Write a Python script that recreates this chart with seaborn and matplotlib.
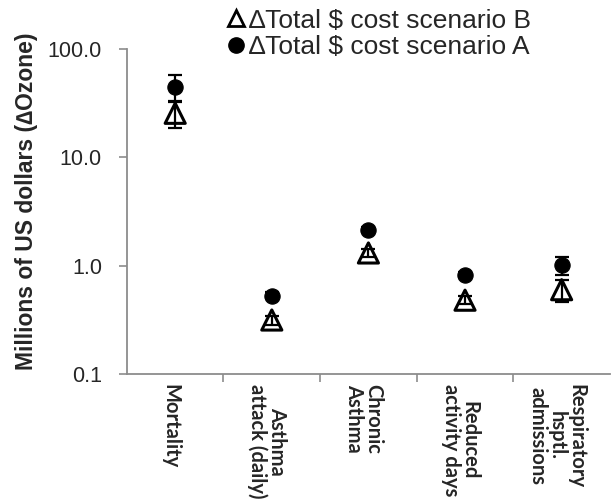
import matplotlib
matplotlib.use("Agg")
import numpy as np
import pandas as pd
import seaborn as sns
import matplotlib.pyplot as plt
from matplotlib.lines import Line2D

# values (millions of US dollars, log scale)
categories = ["Mortality", "Asthma\nattack (daily)", "Chronic\nAsthma",
              "Reduced\nactivity days", "Respiratory\nhsptl.\nadmissions"]
scenario_a = [45.0, 0.53, 2.15, 0.82, 1.01]
scenario_a_err = [12.0, 0.04, 0.12, 0.05, 0.19]
scenario_b = [25.5, 0.315, 1.31, 0.48, 0.6]
scenario_b_err = [7.0, 0.03, 0.1, 0.04, 0.14]

sns.set_style("white")
plt.rcParams['font.family'] = ['Liberation Sans', 'DejaVu Sans']

df_a = pd.DataFrame({"cat": categories, "val": scenario_a, "err": scenario_a_err})
df_b = pd.DataFrame({"cat": categories, "val": scenario_b, "err": scenario_b_err})

fig = plt.figure(figsize=(6.13, 5.01), dpi=100)
ax = fig.add_axes([0.207, 0.2535, 0.788, 0.6487])

# error bars first, markers on top
ax.errorbar(df_a["cat"], df_a["val"], yerr=df_a["err"], fmt="none",
            ecolor="black", elinewidth=1.6, capsize=5, capthick=1.6, zorder=2)
ax.errorbar(df_b["cat"], df_b["val"], yerr=df_b["err"], fmt="none",
            ecolor="black", elinewidth=1.6, capsize=5, capthick=1.6, zorder=2)

sns.scatterplot(data=df_a, x="cat", y="val", marker="o", s=120,
                color="black", edgecolor="black", ax=ax, zorder=3, legend=False)
sns.scatterplot(data=df_b, x="cat", y="val", marker="^", s=210,
                facecolor="none", edgecolor="black", linewidth=2.2,
                ax=ax, zorder=3, legend=False)

ax.set_yscale("log")
ax.set_ylim(0.1, 100)
ax.set_xlim(-0.5, len(categories) - 0.5)
ax.set_yticks([0.1, 1, 10, 100])
ax.set_yticklabels(["0.1", "1.0", "10.0", "100.0"], fontsize=15.5)
ax.yaxis.set_minor_locator(matplotlib.ticker.NullLocator())

# category labels (sitting a touch left of centre, as in the original),
# tick marks at the category boundaries
ax.set_xticks(np.arange(len(categories)) - 0.05)
ax.set_xticklabels(categories, rotation=-90, fontsize=14.5, fontweight="bold",
                   family="Lato", va="top", ha="center", multialignment="center",
                   linespacing=0.95)
ax.set_xticks(np.arange(0.5, len(categories) - 0.5, 1), minor=True)
ax.tick_params(axis="x", which="major", length=0, pad=7)
ax.tick_params(axis="x", which="minor", length=6, width=1.2, color="#8c8c8c",
               direction="out", bottom=True)
ax.tick_params(axis="y", which="major", length=6, width=1.2, color="#8c8c8c",
               direction="out", left=True, pad=12)

for side in ["top", "right"]:
    ax.spines[side].set_visible(False)
for side in ["left", "bottom"]:
    ax.spines[side].set_color("#8c8c8c")
    ax.spines[side].set_linewidth(1.3)

ax.set_xlabel("")
ax.set_ylabel("Millions of US dollars (\u2206Ozone)", fontsize=16.5,
              fontweight="bold")
ax.yaxis.set_label_coords(-0.185, 0.53)

handles = [
    Line2D([], [], marker="^", linestyle="none", markersize=12,
           markerfacecolor="none", markeredgecolor="black", markeredgewidth=2),
    Line2D([], [], marker="o", linestyle="none", markersize=11,
           markerfacecolor="black", markeredgecolor="black"),
]
labels = ["\u2206Total $ cost scenario B", "\u2206Total $ cost scenario A"]
fig.legend(handles, labels, loc="upper left", bbox_to_anchor=(0.355, 1.004),
           frameon=False, fontsize=19, handlelength=0.6, handletextpad=0.2,
           labelspacing=0.1, borderaxespad=0)

plt.savefig("out.png", dpi=100)
